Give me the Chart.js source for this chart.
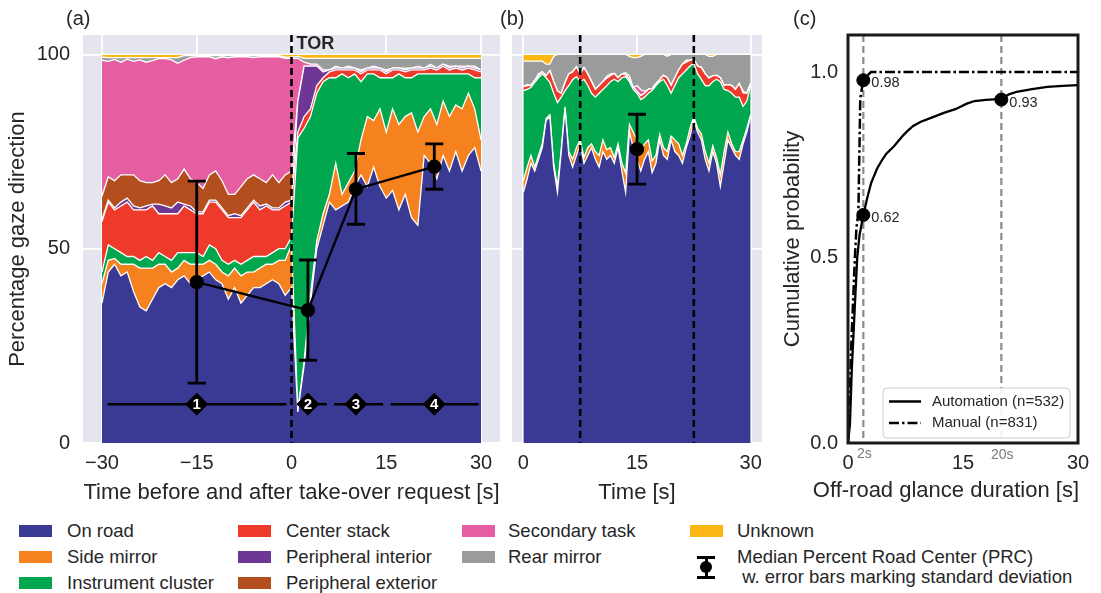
<!DOCTYPE html>
<html><head><meta charset="utf-8">
<script src="https://cdn.jsdelivr.net/npm/chart.js@4.4.0/dist/chart.umd.min.js"></script>
<style>
body{margin:0;width:1101px;height:593px;background:#fff;position:relative;overflow:hidden;font-family:'Liberation Sans',Arial,Helvetica,sans-serif;color:#262626}
canvas{position:absolute;top:0}
.plbl{position:absolute;font-size:20px;line-height:24px}
.leg{position:absolute;font-size:18.5px;line-height:22px;white-space:nowrap}
.patch{position:absolute;width:33px;height:12px}
.blk{position:absolute;background:#000}
</style></head><body>
<canvas id="ca" width="505" height="510" style="left:0"></canvas>
<canvas id="cb" width="265" height="510" style="left:505px"></canvas>
<canvas id="cc" width="331" height="510" style="left:770px"></canvas>
<div class="plbl" style="left:66px;top:6px">(a)</div>
<div class="plbl" style="left:500px;top:6px">(b)</div>
<div class="plbl" style="left:793px;top:6px">(c)</div>
<div id="legend"></div>
<script>
// ---------- categories & colours ----------
const categories = ['On road','Side mirror','Instrument cluster','Center stack','Peripheral interior','Peripheral exterior','Secondary task','Rear mirror','Unknown'];
const colors = ['#3a3a94','#f5821f','#00a74f','#ee3a2b','#6e3795','#b34f1f','#e45ea1','#9a9c9c','#fdb714'];

// ---------- panel (a): time relative to TOR [s] ----------
const timeA = [-30,-29,-28,-27,-26,-25,-24,-23,-22,-21,-20,-19,-18,-17,-16,-15,-14,-13,-12,-11,-10,-9,-8,-7,-6,-5,-4,-3,-2,-1,0,1,2,3,4,5,6,7,8,9,10,11,12,13,14,15,16,17,18,19,20,21,22,23,24,25,26,27,28,29,30];
const onRoadA = [36,44,46,43,44,39,35,34,37,40,41,40,42,43,41,42,43,44,42,41,37,40,36,38,40,40,41,42,41,38,40,8,20,36,50,56,62,60,61,62,66,69,66,71,66,63,65,60,64,58,56,74,72,68,74,70,75,70,74,76,70];
const sideMirrorA = [5,3,1.5,3,2,7,10,11,8,6,5,4,3,4,5,4,3,3,4,3,6,5,7,6,4,5,5,4,6,9,11,0.5,1,2,2,3,2,12,3,5,4,9,18,12,20,17,21,22,20,27,24,10,14,14,14,14,12,16,16,10,8];
const instrumentA = [3,4,2.5,3,2,2,2,3,2,3,2,3,4,2,3,3,2,4,4,3,3,2,3,3,4,3,2,3,3,3,2,70,60,46,38,34,30,22,31,27,25,15,11,12,8,14,8,13,10,9,15,11,9,13,7,11,8,9,5,8,16];
const centerStackA = [13,11,10,12,14,12,13,12,14,10,11,12,10,12,11,10,11,11,12,13,12,11,12,13,14,12,13,11,10,11,9,1.5,3,2,2,1,1.5,2,1,2,1,2,1,1,2,1,2,1,1.5,2,1,1,1.5,1,2,1,1.5,1,1.5,2,1.5];
const perInteriorA = [0.5,0.5,0.5,1,1,1,0.5,1,0.5,2.5,2,1.5,3,0.5,1,0.5,0.5,0.5,0.5,0.5,0.5,1,0.5,0.5,0.5,1,0.5,0.5,0.5,1,0.5,8,13,11,5,1.5,0.5,0.5,0.5,0.5,0.5,0.5,0.5,0.5,0.5,0.5,0.5,0.5,0.5,0.5,0.5,0.5,0.5,0.5,0.5,0.5,0.5,0.5,0.5,0.5,0.5];
const perExteriorA = [6,6,7,7,6,8,7,6,5.5,6,8,6.5,6,9,7,7.5,6,6.5,7.5,7,5.5,5,7.5,7.5,6.5,7,5.5,8.5,6.5,7,7.5,0,0,0,0,0,0,0,0,0,0,0,0,0,0,0,0,0,0,0,0,0,0,0,0,0,0,0,0,0,0];
const secondaryA = [35,29.7,31.2,29,29.8,29.2,31.1,31,31.4,31.4,29.9,31.6,29.7,28,31.2,32.4,33.9,30.4,28.9,31.9,35.1,35.4,33.4,31.4,30.2,31.4,32.4,30.4,32.4,30,29,11,1,0.5,0.5,0.5,0,0.5,0,0.5,0,0.5,0,0.5,0,0.5,0,0,0.5,0,0.5,0,0.5,0,0,0.5,0,0.5,0,0.5,0];
const rearMirrorA = [0.8,1.0,0.5,1.2,0.4,1.0,0.6,1.2,0.8,0.3,0.3,0.6,1.5,1.2,0.5,0.3,0.3,0.3,0.8,0.3,0.6,0.3,0.3,0.3,0.5,0.3,0.3,0.3,0.3,0.3,0.3,0.5,1,1.5,1.5,3,3,2,2.5,2,2.5,3,2.5,2,2.5,3,2.5,2.5,2.5,2.5,2,2.5,1.5,2.5,1.5,2,2,2,2,2,3];
const unknownA = [0.7,0.8,0.8,0.8,0.8,0.8,0.8,0.8,0.8,0.8,0.8,0.8,0.8,0.3,0.3,0.3,0.3,0.3,0.3,0.3,0.3,0.3,0.3,0.3,0.3,0.3,0.3,0.3,0.3,0.7,0.7,0.5,1,1,1,1,1,1,1,1,1,1,1,1,1,1,1,1,1,1,1,1,1,1,1,1,1,1,1,1,1];

// median PRC with std error bars (a)
const medXA = [-15,2.6,10.2,22.6];
const medYA = [41.4,34.2,65.3,71.1];
const errLoA = [15.4,21.3,56.3,65.3];
const errHiA = [67.4,47.1,74.5,77.0];
// phases (a)
const phaseStart = [-29.1,0.9,6.75,15.7];
const phaseEnd = [-0.8,5.6,14.5,29.6];
const phaseMid = [-15,2.6,10.2,22.6];
const phaseLabels = ['1','2','3','4'];
const phaseLevel = 10;
const torTime = 0;

// ---------- panel (b) ----------
const timeB = [0,0.5,1,1.5,2,2.5,3,3.5,4,4.5,5,5.5,6,6.5,7,7.5,8,8.5,9,9.5,10,10.5,11,11.5,12,12.5,13,13.5,14,14.5,15,15.5,16,16.5,17,17.5,18,18.5,19,19.5,20,20.5,21,21.5,22,22.5,23,23.5,24,24.5,25,25.5,26,26.5,27,27.5,28,28.5,29,29.5,30];
const onRoadB = [64.5,68,72,70,73,76,83,84,71,64.5,75,86,74,71,74,77,72,74,76,73,71,75,73,74,72,76,70,64.5,80,76,73,70,73,75,69.6,72,78,74,73,78,75,74,72,76,79,83,80,78,73,70,75,72,66,72,78,76,74,73,77,80,84];
const sideMirrorB = [3,3,2,1,1,1,0.5,0.5,1,1.5,0.5,0.5,1,2,2,1,1.5,2,1,2,3,3,2.5,2,1.5,1,2,5,2,4,5,5,4,3,3,2,1.5,2,2,1,3,3,2,1,2,1,1,1.5,2,2,1.5,1.5,3,3,2,1,1,2,1,1,0.5];
const instrumentB = [23.2,20,17.5,21.8,20,18,10.5,8.3,18,21.6,13.5,4.2,17,20.5,18.3,15,20.1,16,13,14,16,13,16.4,17,20.1,16,22,24.8,11,11,12,13.4,12,12,18.1,18,13.5,17.6,17,11,14,17,21,19,16,13.7,14,14.1,17,19.9,16.5,20.1,24,16,10.7,13,14,14,8.6,7,7.5];
const centerStackB = [1,1,0.5,0.5,0.5,0.5,0.5,3,3,3,1,2,3,2,2.5,2,3,3,3,2,2,2,2,1.5,1.5,1,1,0.5,0.5,0.5,0.5,1,1,1,0.5,0.5,0.5,1,2,2,2,2,2.5,2,1.5,1,2,3,3,2,1.5,1,1,1,1.5,2,2,3.5,3.5,2,0.5];
const perInteriorB = [0,0,0,0,0,0,0,0,0,0,0,0,0,0,0,0,0,0,0,0,0,0,0,0,0,0,0,0,0,0,0,0,0,0,0,0,0,0,0,0,0,0,0,0,0,0,0,0,0,0,0,0,0,0,0,0,0,0,0,0,0];
const perExteriorB = [0,0,0,0,0,0,0,0,0,0,0,0,0,0,0,0,0,0,0,0,0,0,0,0,0,0,0,0,0,0,0,0,0,0,0,0,0,0,0,0,0,0,0,0,0,0,0,0,0,0,0,0,0,0,0,0,0,0,0,0,0];
const secondaryB = [0,0.3,0,0,0.5,0,0,0,0,0,0,0,0,0,0,0,0,0,0,0,0,0,0.5,0.5,0,0,0,0.5,1,0,1.5,1.5,0.5,0,0,0,0,0,0,0,0,0,0,0.5,0,0,0,0,0,0,0,0,0,0,0,0,0,0,0.5,0,0];
const rearMirrorB = [6.6,6.0,6.3,5.0,3.3,2.8,3.0,1.7,6.5,9.4,10,7.3,5,4.5,3.2,5,3.4,5,7,9,8,7,5.6,5,4.9,6,5,4.7,5,7.7,7.2,8.6,9.5,9,8.8,7.5,6.5,5.4,5.5,8,6,4,2.5,1.5,1.5,1.3,3,3.4,5,5.6,5,5.4,6,8,7.8,8,9,7.5,9.4,10,7.5];
const unknownB = [1.7,1.7,1.7,1.7,1.7,1.7,2.5,2.5,0.5,0,0,0,0,0,0,0,0,0,0,0,0,0,0,0,0,0,0,0,0.5,0.8,0.8,0.5,0,0,0,0,0,0,0.5,0,0,0,0,0,0,0,0,0,0,0.5,0.5,0,0,0,0,0,0,0,0,0,0];
const medXB = [15];
const medYB = [75.6];
const errLoB = [66.6];
const errHiB = [84.6];
const phaseBoundsB = [7.5,22.5];

// ---------- panel (c): CDF of off-road glance duration ----------
const autoX = [0,0.25,0.5,0.8,1.2,1.5,2.0,2.5,3,3.8,4.5,5,6,7,7.7,8.5,9.5,11,12.5,14,15.5,16.5,18,20,21,22,24,26,28,30];
const autoY = [0,0.05,0.2,0.33,0.5,0.56,0.615,0.66,0.7,0.74,0.765,0.78,0.8,0.825,0.84,0.855,0.866,0.878,0.89,0.9,0.915,0.922,0.925,0.928,0.94,0.947,0.954,0.96,0.963,0.965];
const manX = [0,0.2,0.4,0.7,0.9,1.1,1.35,1.5,1.6,2.0,2.5,3,30];
const manY = [0,0.1,0.25,0.4,0.5,0.58,0.62,0.8,0.93,0.978,0.99,1.0,1.0];
const markX = [2,2,20];
const markY = [0.978,0.615,0.926];
const markLabels = ['0.98','0.62','0.93'];
const refLinesC = [2,20];
const refLabelsC = ['2s','20s'];
const legendC = ['Automation (n=532)','Manual (n=831)'];

// ticks
const xTicksA = [-30,-15,0,15,30];
const xTicksB = [0,15,30];
const yTicksAB = [0,50,100];
const xTicksC = [0,15,30];
const yTicksC = [0,0.5,1.0];

// ---------- helpers ----------
Chart.defaults.font.family = "'Liberation Sans', Arial, Helvetica, sans-serif";
Chart.defaults.color = '#262626';
const TXT = '#262626';
const BG = '#e5e5ef';
const FONT = "'Liberation Sans', Arial, sans-serif";
const fmt = v => v < 0 ? '\u2212' + Math.abs(v) : String(v);
const tickSet = arr => s => { s.ticks = arr.map(v => ({value: v})); };

function areaSets(series) {
  return series.map((d, k) => ({
    label: categories[k], data: d, backgroundColor: colors[k], borderColor: '#ffffff',
    borderWidth: 1.3, fill: k === 0 ? 'origin' : '-1', pointRadius: 0, tension: 0,
    stack: 'gaze', order: 2
  }));
}
const bgPlugin = color => ({
  id: 'bg' + color.replace('#', ''),
  beforeDraw(chart) {
    const {ctx, chartArea: a} = chart;
    ctx.save(); ctx.fillStyle = color; ctx.fillRect(a.left, a.top, a.right - a.left, a.bottom - a.top); ctx.restore();
  }
});
function vDashed(chart, xv, color, lw, dash) {
  const {ctx, chartArea: a, scales: {x}} = chart;
  const px = x.getPixelForValue(xv);
  ctx.save(); ctx.strokeStyle = color; ctx.lineWidth = lw; ctx.setLineDash(dash);
  ctx.beginPath(); ctx.moveTo(px, a.top); ctx.lineTo(px, a.bottom); ctx.stroke(); ctx.restore();
}
function errBars(chart, xs, lo, hi) {
  const {ctx, scales: {x, y}} = chart;
  ctx.save(); ctx.strokeStyle = '#000'; ctx.lineWidth = 2.8;
  xs.forEach((xv, i) => {
    const px = x.getPixelForValue(xv), p1 = y.getPixelForValue(lo[i]), p2 = y.getPixelForValue(hi[i]);
    ctx.beginPath();
    ctx.moveTo(px, p1); ctx.lineTo(px, p2);
    ctx.moveTo(px - 9, p1); ctx.lineTo(px + 9, p1);
    ctx.moveTo(px - 9, p2); ctx.lineTo(px + 9, p2);
    ctx.stroke();
  });
  ctx.restore();
}
const xAxis = (min, max, ticks, title, titlePad, h) => ({
  type: 'linear', min, max, afterBuildTicks: tickSet(ticks),
  afterFit: s => { s.height = h; s.paddingLeft = 0; s.paddingRight = 0; },
  ticks: {callback: v => fmt(v), font: {size: 20}, color: TXT, padding: 8, maxRotation: 0, autoSkip: false},
  grid: {color: '#ffffff', lineWidth: 1.8, drawTicks: false},
  border: {display: false},
  title: {display: true, text: title, font: {size: 22}, color: TXT, padding: {top: titlePad, bottom: titlePad}}
});
const common = {responsive: false, animation: false, events: [], plugins: {legend: {display: false}, tooltip: {enabled: false}}};

// ---------- chart (a) ----------
const medianA = {data: medXA.map((x, i) => ({x, y: medYA[i]})), borderColor: '#000', borderWidth: 2.3,
  pointRadius: 6, pointBackgroundColor: '#000', pointBorderColor: '#000', fill: false, stack: 'prc', order: -2};
const phaseLines = phaseStart.map((s, i) => ({data: [{x: s, y: phaseLevel}, {x: phaseEnd[i], y: phaseLevel}],
  borderColor: '#000', borderWidth: 2.5, pointRadius: 0, fill: false, stack: 'ph' + i, order: -1}));
const phaseDiamonds = {data: phaseMid.map(x => ({x, y: phaseLevel})), showLine: false, pointStyle: 'rectRot',
  pointRadius: 11, pointBackgroundColor: '#000', pointBorderColor: '#000', fill: false, stack: 'pd', order: -1};

new Chart(document.getElementById('ca'), {
  type: 'line',
  data: {labels: timeA, datasets: [...areaSets([onRoadA, sideMirrorA, instrumentA, centerStackA, perInteriorA, perExteriorA, secondaryA, rearMirrorA, unknownA]), ...phaseLines, phaseDiamonds, medianA]},
  options: {...common,
    layout: {autoPadding: false, padding: {left: 0, right: 5, top: 35, bottom: 0}},
    scales: {
      x: xAxis(-33, 33, xTicksA, 'Time before and after take-over request [s]', 4, 67),
      y: {type: 'linear', stacked: true, min: 0, max: 105, afterBuildTicks: tickSet(yTicksAB), afterFit: s => { s.width = 83; },
        ticks: {font: {size: 20}, color: TXT, padding: 13},
        grid: {color: '#ffffff', lineWidth: 1.8, drawTicks: false}, border: {display: false},
        title: {display: true, text: 'Percentage gaze direction', font: {size: 22}, color: TXT, padding: {top: 5, bottom: 5}}}
    }
  },
  plugins: [bgPlugin(BG), {
    id: 'overlayA',
    afterDatasetsDraw(chart) {
      const {ctx, chartArea: a, scales: {x, y}} = chart;
      vDashed(chart, torTime, '#000', 2.6, [7, 4]);
      ctx.save();
      ctx.fillStyle = TXT; ctx.font = "bold 18px " + FONT; ctx.textBaseline = 'middle';
      ctx.fillText('TOR', x.getPixelForValue(torTime) + 5, a.top + 9);
      ctx.restore();
      errBars(chart, medXA, errLoA, errHiA);
      ctx.save();
      ctx.fillStyle = '#fff'; ctx.font = "bold 15px " + FONT; ctx.textAlign = 'center'; ctx.textBaseline = 'middle';
      phaseMid.forEach((xv, i) => ctx.fillText(phaseLabels[i], x.getPixelForValue(xv), y.getPixelForValue(phaseLevel) + 1));
      ctx.restore();
    }
  }]
});

// ---------- chart (b) ----------
const medianB = {data: medXB.map((x, i) => ({x, y: medYB[i]})), borderColor: '#000', borderWidth: 2.3,
  pointRadius: 6, pointBackgroundColor: '#000', pointBorderColor: '#000', fill: false, stack: 'prc', order: -2};
new Chart(document.getElementById('cb'), {
  type: 'line',
  data: {labels: timeB, datasets: [...areaSets([onRoadB, sideMirrorB, instrumentB, centerStackB, perInteriorB, perExteriorB, secondaryB, rearMirrorB, unknownB]), medianB]},
  options: {...common,
    layout: {autoPadding: false, padding: {left: 7, right: 8, top: 35, bottom: 0}},
    scales: {
      x: xAxis(-1.5, 31.5, xTicksB, 'Time [s]', 4, 67),
      y: {type: 'linear', stacked: true, min: 0, max: 105, afterBuildTicks: tickSet(yTicksAB), afterFit: s => { s.width = 0; },
        ticks: {display: false}, grid: {color: '#ffffff', lineWidth: 1.8, drawTicks: false}, border: {display: false}}
    }
  },
  plugins: [bgPlugin(BG), {
    id: 'overlayB',
    afterDatasetsDraw(chart) {
      phaseBoundsB.forEach(v => vDashed(chart, v, '#000', 2.6, [7, 4]));
      errBars(chart, medXB, errLoB, errHiB);
    }
  }]
});

// ---------- chart (c) ----------
new Chart(document.getElementById('cc'), {
  type: 'line',
  data: {datasets: [
    {data: markX.map((x, i) => ({x, y: markY[i]})), showLine: false, pointRadius: 6.5, pointBackgroundColor: '#000', pointBorderColor: '#000', order: -1},
    {data: autoX.map((x, i) => ({x, y: autoY[i]})), borderColor: '#000', borderWidth: 2.3, pointRadius: 0, tension: 0, fill: false},
    {data: manX.map((x, i) => ({x, y: manY[i]})), borderColor: '#000', borderWidth: 2.5, borderDash: [10, 3, 2.5, 3], pointRadius: 0, tension: 0, fill: false}
  ]},
  options: {...common,
    layout: {autoPadding: false, padding: {left: 0, right: 23, top: 35, bottom: 0}},
    scales: {
      x: {type: 'linear', min: 0, max: 30, afterBuildTicks: tickSet(xTicksC), afterFit: s => { s.height = 67; s.paddingLeft = 0; s.paddingRight = 0; },
        ticks: {font: {size: 20}, color: TXT, padding: 8, maxRotation: 0, autoSkip: false},
        grid: {display: false, drawTicks: false}, border: {display: false},
        title: {display: false}},
      y: {type: 'linear', min: 0, max: 1.1, afterBuildTicks: tickSet(yTicksC), afterFit: s => { s.width = 78; },
        ticks: {font: {size: 20}, color: TXT, padding: 10, callback: v => v.toFixed(1)},
        grid: {display: false, drawTicks: false}, border: {display: false},
        title: {display: true, text: 'Cumulative probability', font: {size: 22}, color: TXT, padding: {top: 10, bottom: 10}}}
    }
  },
  plugins: [bgPlugin('#ffffff'), {
    id: 'overlayC',
    beforeDatasetsDraw(chart) {
      refLinesC.forEach(v => vDashed(chart, v, '#8c8c8c', 2.2, [7, 4]));
    },
    afterDatasetsDraw(chart) {
      const {ctx, chartArea: a, scales: {x, y}} = chart;
      ctx.save();
      ctx.fillStyle = TXT; ctx.font = "14.5px " + FONT; ctx.textBaseline = 'middle';
      markX.forEach((xv, i) => ctx.fillText(markLabels[i], x.getPixelForValue(xv) + 8, y.getPixelForValue(markY[i]) + 3));
      // frame
      ctx.strokeStyle = '#1a1a1a'; ctx.lineWidth = 3;
      ctx.strokeRect(a.left, a.top, a.right - a.left, a.bottom - a.top);
      // legend box
      const bx = a.left + 35, by = a.bottom - 55, bw = 187, bh = 50, r = 4;
      ctx.beginPath();
      ctx.moveTo(bx + r, by); ctx.lineTo(bx + bw - r, by); ctx.quadraticCurveTo(bx + bw, by, bx + bw, by + r);
      ctx.lineTo(bx + bw, by + bh - r); ctx.quadraticCurveTo(bx + bw, by + bh, bx + bw - r, by + bh);
      ctx.lineTo(bx + r, by + bh); ctx.quadraticCurveTo(bx, by + bh, bx, by + bh - r);
      ctx.lineTo(bx, by + r); ctx.quadraticCurveTo(bx, by, bx + r, by); ctx.closePath();
      ctx.fillStyle = 'rgba(255,255,255,0.9)'; ctx.fill();
      ctx.strokeStyle = '#cccccc'; ctx.lineWidth = 1; ctx.stroke();
      const rowY = [by + 13.5, by + 35];
      ctx.strokeStyle = '#000'; ctx.lineWidth = 2.5;
      ctx.setLineDash([]); ctx.beginPath(); ctx.moveTo(bx + 6, rowY[0]); ctx.lineTo(bx + 38, rowY[0]); ctx.stroke();
      ctx.setLineDash([10, 3, 2.5, 3]); ctx.beginPath(); ctx.moveTo(bx + 6, rowY[1]); ctx.lineTo(bx + 38, rowY[1]); ctx.stroke();
      ctx.setLineDash([]);
      ctx.fillStyle = TXT; ctx.font = "15px " + FONT;
      legendC.forEach((t, i) => ctx.fillText(t, bx + 49, rowY[i]));
      ctx.restore();
    },
    afterDraw(chart) {
      const {ctx, chartArea: a, scales: {x}} = chart;
      ctx.save();
      ctx.fillStyle = '#7a7a7a'; ctx.font = "14px " + FONT; ctx.textAlign = 'center'; ctx.textBaseline = 'middle';
      refLinesC.forEach((v, i) => ctx.fillText(refLabelsC[i], x.getPixelForValue(v) + 1, a.bottom + 11 + i * 1.5));
      // x-axis title (wider than the axis, drawn without compression)
      ctx.fillStyle = TXT; ctx.font = "22px " + FONT; ctx.textAlign = 'right';
      ctx.fillText('Off-road glance duration [s]', a.right + 1, a.bottom + 48);
      ctx.restore();
    }
  }]
});

// ---------- bottom legend ----------
const legendCols = [[0, 1, 2], [3, 4, 5], [6, 7], [8]];
const patchX = [19, 238, 462, 690];
const textX = [67, 286, 508, 737];
const rowY = [531, 557, 583];
const L = document.getElementById('legend');
legendCols.forEach((col, c) => col.forEach((k, r) => {
  const p = document.createElement('div'); p.className = 'patch';
  p.style.left = patchX[c] + 'px'; p.style.top = (rowY[r] - 6) + 'px'; p.style.background = colors[k];
  L.appendChild(p);
  const t = document.createElement('div'); t.className = 'leg';
  t.style.left = textX[c] + 'px'; t.style.top = (rowY[r] - 11) + 'px'; t.textContent = categories[k];
  L.appendChild(t);
}));
// median PRC legend entry
const ic = [[697, 556, 18, 3], [697, 576, 18, 3], [704.5, 557, 3, 21]];
ic.forEach(b => { const d = document.createElement('div'); d.className = 'blk';
  d.style.left = b[0] + 'px'; d.style.top = b[1] + 'px'; d.style.width = b[2] + 'px'; d.style.height = b[3] + 'px'; L.appendChild(d); });
const dot = document.createElement('div'); dot.className = 'blk';
Object.assign(dot.style, {left: '700px', top: '561px', width: '12px', height: '12px', borderRadius: '50%'}); L.appendChild(dot);
const medText = ['Median Percent Road Center (PRC)', '\u00a0w. error bars marking standard deviation'];
medText.forEach((s, i) => { const t = document.createElement('div'); t.className = 'leg';
  t.style.left = textX[3] + 'px'; t.style.top = (rowY[1] - 11 + i * 20) + 'px'; t.textContent = s; L.appendChild(t); });
</script>
</body></html>
